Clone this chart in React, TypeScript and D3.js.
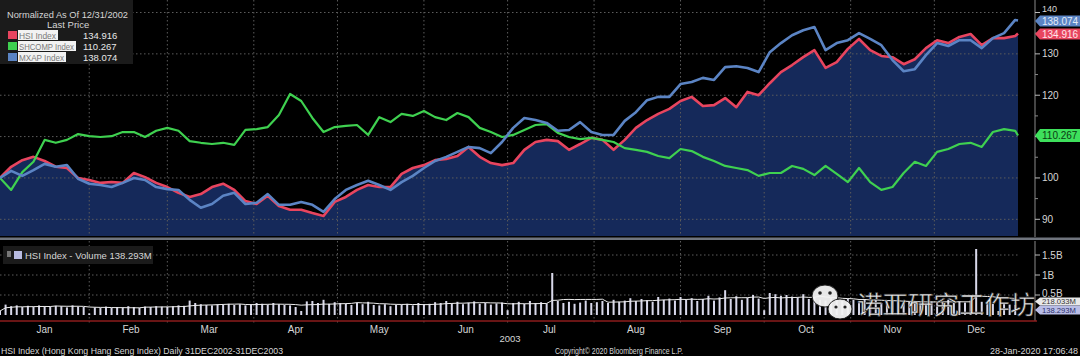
import React from "react";
import * as d3 from "d3";

// ---------- data ----------
const START = "2002-12-31";
const END = "2003-12-31";
const PRICE_STEP_DAYS = 4; // one reading every 4 calendar days, last reading on END

const HSI = [
  100, 102.7, 104.3, 105.1, 104.1, 102.7, 102.4, 100.0, 99.5, 98.8,
  99.0, 98.8, 101.2, 100.2, 98.8, 97.8, 96.4, 95.4, 96.1, 97.8,
  98.6, 97.1, 94.4, 93.7, 95.7, 93.2, 92.3, 92.3, 91.5, 90.8,
  94.2, 95.4, 97.1, 98.3, 97.8, 97.8, 101.0, 102.4, 103.1, 104.3,
  104.6, 105.3, 107.5, 105.1, 103.6, 103.1, 103.6, 106.8, 108.7, 109.2,
  108.9, 106.8, 108.2, 109.7, 109.2, 106.8, 109.2, 112.1, 114.0, 115.5,
  116.7, 118.6, 119.6, 117.4, 117.6, 119.3, 117.1, 120.8, 120.0, 122.9,
  125.6, 127.3, 129.2, 130.9, 126.6, 128.0, 131.2, 133.6, 130.9, 129.5,
  129.2, 127.5, 128.7, 131.4, 133.3, 132.6, 134.1, 134.8, 132.1, 133.8,
  133.8, 134.3, 134.916,
];

const SHCOMP = [
  100, 97.1, 101.4, 103.9, 109.2, 108.5, 109.2, 110.6, 110.1, 109.9,
  110.1, 111.1, 111.1, 109.9, 111.4, 112.1, 111.4, 108.9, 108.5, 108.2,
  108.5, 108.0, 111.6, 111.8, 112.3, 115.2, 120.3, 118.6, 114.5, 111.1,
  112.3, 112.6, 112.8, 110.4, 114.7, 113.5, 115.5, 115.0, 116.2, 114.7,
  114.0, 115.7, 114.7, 112.1, 111.1, 109.9, 110.4, 111.6, 112.8, 113.0,
  110.9, 109.9, 109.4, 109.7, 109.2, 108.7, 107.2, 106.8, 106.3, 105.3,
  104.8, 107.0, 106.5, 105.1, 104.1, 102.9, 102.4, 101.9, 100.5, 101.2,
  101.2, 102.9, 102.2, 100.7, 102.9, 101.0, 99.0, 102.4, 99.0, 97.1,
  97.8, 101.2, 103.9, 102.9, 106.3, 107.0, 108.2, 108.5, 107.5, 111.1,
  111.8, 111.4, 110.267,
];

const MXAP = [
  100, 101.7, 100.5, 101.9, 103.4, 102.7, 103.1, 99.8, 98.6, 98.3,
  97.8, 98.8, 100.0, 99.5, 97.8, 97.3, 97.1, 94.7, 92.8, 93.7,
  95.7, 96.4, 93.7, 94.0, 96.1, 93.5, 93.5, 94.2, 93.5, 91.8,
  94.9, 97.1, 98.3, 99.3, 98.3, 97.1, 99.0, 100.5, 102.4, 104.1,
  105.1, 106.3, 107.5, 107.2, 106.0, 108.7, 112.1, 114.5, 114.0, 113.3,
  111.4, 111.6, 113.5, 111.1, 110.4, 110.4, 113.8, 115.9, 118.8, 119.6,
  119.6, 122.7, 123.2, 124.2, 123.7, 126.8, 127.0, 126.6, 125.6, 130.4,
  132.6, 134.5, 135.7, 136.5, 130.9, 132.6, 133.3, 135.0, 133.6, 132.1,
  128.5, 125.8, 126.3, 129.7, 132.6, 131.9, 133.3, 133.3, 131.4, 133.8,
  135.0, 138.2, 138.074,
];

const VOLUME_STEP_DAYS = 2; // HSI volume (billions), one reading every 2 days
const VOLUME = [
  // Jan
  0.10, 0.26, 0.22, 0.24, 0.20, 0.23, 0.21, 0.24, 0.22, 0.20, 0.23, 0.22, 0.19, 0.24, 0.21, 0.20,
  // Feb
  0.04, 0.19, 0.18, 0.21, 0.18, 0.20, 0.19, 0.22, 0.20, 0.18, 0.21, 0.20, 0.22, 0.21,
  // Mar
  0.20, 0.22, 0.24, 0.23, 0.36, 0.30, 0.27, 0.25, 0.24, 0.27, 0.26, 0.28, 0.25, 0.27, 0.24, 0.26,
  // Apr
  0.30, 0.28, 0.26, 0.30, 0.27, 0.25, 0.24, 0.20, 0.10, 0.34, 0.35, 0.30, 0.38, 0.28, 0.32,
  // May
  0.30, 0.28, 0.25, 0.30, 0.27, 0.33, 0.25, 0.24, 0.27, 0.22, 0.25, 0.26, 0.28, 0.24, 0.30, 0.27,
  // Jun
  0.28, 0.32, 0.30, 0.35, 0.29, 0.33, 0.27, 0.31, 0.34, 0.28, 0.30, 0.26, 0.29, 0.31,
  // Jul
  0.12, 0.30, 0.33, 0.28, 0.35, 0.30, 0.32, 0.29, 1.05, 0.35, 0.30, 0.33, 0.28, 0.31, 0.36, 0.30,
  // Aug
  0.32, 0.35, 0.30, 0.38, 0.33, 0.36, 0.42, 0.35, 0.40, 0.37, 0.33, 0.45, 0.38, 0.41, 0.36,
  // Sep
  0.45, 0.38, 0.42, 0.35, 0.40, 0.48, 0.36, 0.44, 0.62, 0.40, 0.47, 0.38, 0.43, 0.50, 0.41,
  // Oct
  0.12, 0.55, 0.52, 0.48, 0.50, 0.46, 0.44, 0.52, 0.40, 0.45, 0.38, 0.36, 0.42, 0.39, 0.35, 0.40,
  // Nov
  0.38, 0.35, 0.40, 0.33, 0.37, 0.30, 0.34, 0.36, 0.32, 0.30, 0.33, 0.35, 0.31, 0.29, 0.34,
  // Dec
  0.35, 0.32, 0.38, 0.30, 0.34, 0.31, 0.36, 1.65, 0.33, 0.30, 0.28, 0.10, 0.29, 0.26, 0.25,
];

const PRICE_TICKS = [90, 100, 110, 120, 130, 140];
const PRICE_TICK_HIDDEN = [110]; // covered by the SHCOMP last-price tag
const PRICE_MINOR = [95, 105, 115, 125, 135];
const VOL_TICKS = [0.5, 1, 1.5];
const VOL_TICK_LABELS = ["0.5B", "1B", "1.5B"];
const MONTH_LABELS = ["Jan", "Feb", "Mar", "Apr", "May", "Jun", "Jul", "Aug", "Sep", "Oct", "Nov", "Dec"];
const SERIES_NAMES = ["HSI Index", "SHCOMP Index", "MXAP Index"];
const LAST_VALUES = ["134.916", "110.267", "138.074"];
const VOL_TAGS = ["218.033M", "138.293M"];

// ---------- styling ----------
const COL_HSI = "#e8455f";
const COL_SH = "#3fd150";
const COL_MX = "#5b84c4";
const FILL = "#15295a";
const GRID = "#5c5c5c";
const TXT = "#d6d6d6";
const FONT = '"Liberation Sans", Arial, sans-serif';

export default function App() {
  const parse = d3.utcParse("%Y-%m-%d");
  const t0 = parse(START)!;
  const t1 = parse(END)!;

  const x = d3.scaleUtc().domain([t0, t1]).range([0, 1018]);
  const y = d3.scaleLinear().domain([90, 140]).range([219.3, 12.5]);
  const yv = d3.scaleLinear().domain([0, 1.5]).range([315, 255]);

  const priceDate = (i: number) =>
    d3.utcDay.offset(t0, Math.min(i * PRICE_STEP_DAYS, d3.utcDay.count(t0, t1)));
  const toPts = (arr: number[]) => arr.map((v, i) => ({ d: priceDate(i), v }));

  const hsi = toPts(HSI);
  const sh = toPts(SHCOMP);
  const mx = toPts(MXAP);

  const line = d3
    .line<{ d: Date; v: number }>()
    .x((p) => x(p.d))
    .y((p) => y(p.v));
  const area = d3
    .area<{ d: Date; v: number }>()
    .x((p) => x(p.d))
    .y0(236)
    .y1((p) => y(p.v));

  const vol = VOLUME.map((v, i) => ({ d: d3.utcDay.offset(t0, i * VOLUME_STEP_DAYS), v }));
  const win = 10;
  const volMA = vol.map((p, i) => {
    const s = vol.slice(Math.max(0, i - win + 1), i + 1);
    return { d: p.d, v: d3.mean(s, (q) => q.v)! };
  });
  const volLine = d3
    .line<{ d: Date; v: number }>()
    .x((p) => x(p.d))
    .y((p) => yv(p.v));

  const monthStarts = d3.utcMonth.range(d3.utcMonth.offset(parse("2003-01-01")!, 1), t1);
  const monthMids = d3.utcMonth
    .range(parse("2003-01-01")!, parse("2004-01-01")!)
    .map((m) => d3.utcDay.offset(m, 15));

  const axisX = 1035;

  const tag = (yc: number, h: number, fill: string, text: string, color: string, key: string, fs = 10, tl?: number) => (
    <g key={key}>
      <path
        d={`M${axisX},${yc} L${axisX + 5},${yc - h / 2} L1080,${yc - h / 2} L1080,${yc + h / 2} L${axisX + 5},${yc + h / 2} Z`}
        fill={fill}
      />
      <text
        x={1042}
        y={yc + fs * 0.36}
        fontSize={fs}
        fill={color}
        fontFamily={FONT}
        textLength={tl}
        lengthAdjust={tl ? "spacingAndGlyphs" : undefined}
      >
        {text}
      </text>
    </g>
  );

  return (
    <svg
      width={1080}
      height={356}
      style={{ position: "absolute", left: 0, top: 0, background: "#000", display: "block" }}
      fontFamily={FONT}
    >
      <rect x={0} y={0} width={1080} height={356} fill="#000" />

      {/* main price panel */}
      <path d={area(hsi)!} fill={FILL} />

      {PRICE_TICKS.map((t) => (
        <line key={"hg" + t} x1={0} x2={1018} y1={y(t)} y2={y(t)} stroke={GRID} strokeDasharray="1.5 2.5" />
      ))}
      {monthStarts.map((m, i) => (
        <line key={"vg" + i} x1={x(m)} x2={x(m)} y1={0} y2={236} stroke={GRID} strokeDasharray="1.5 2.5" />
      ))}

      <path d={line(hsi)!} fill="none" stroke={COL_HSI} strokeWidth={2.6} strokeLinejoin="round" />
      <path d={line(sh)!} fill="none" stroke={COL_SH} strokeWidth={2.2} strokeLinejoin="round" />
      <path d={line(mx)!} fill="none" stroke={COL_MX} strokeWidth={2.6} strokeLinejoin="round" />

      {/* separator */}
      <rect x={0} y={237.5} width={1080} height={2.5} fill="#70757e" />

      {/* right axis */}
      <line x1={axisX} x2={axisX} y1={0} y2={237} stroke="#8a8a8a" />
      {PRICE_TICKS.map((t) => (
        <g key={"pt" + t}>
          <line x1={axisX} x2={axisX + 5} y1={y(t)} y2={y(t)} stroke="#bbb" />
          {PRICE_TICK_HIDDEN.includes(t) ? null : (
            <text x={1042} y={t === 140 ? 12 : y(t) + 3.5} fontSize={t === 140 ? 9 : 10} fill={TXT}>
              {t}
            </text>
          )}
        </g>
      ))}
      {PRICE_MINOR.map((t) => (
        <line key={"pm" + t} x1={axisX} x2={axisX + 3} y1={y(t)} y2={y(t)} stroke="#888" />
      ))}
      {tag(y(138.074) + 0.5, 11, COL_MX, LAST_VALUES[2], "#e4ecf8", "t1")}
      {tag(y(134.916) + 0.5, 11, COL_HSI, LAST_VALUES[0], "#ffe6ea", "t2")}
      {tag(y(110.267), 13, "#3ee05c", LAST_VALUES[1], "#0b3a12", "t3")}

      {/* legend */}
      <rect x={0} y={0} width={133} height={64} fill="#1b1b1b" />
      <text x={7} y={18} fontSize={9.5} fill={TXT} textLength={121} lengthAdjust="spacingAndGlyphs">
        Normalized As Of 12/31/2002
      </text>
      <text x={47} y={28} fontSize={9.5} fill={TXT}>
        Last Price
      </text>
      {[COL_HSI, COL_SH, COL_MX].map((c, i) => {
        const yy = 31 + i * 11;
        const w = [40, 58, 48][i];
        return (
          <g key={"lg" + i}>
            <rect x={8} y={yy} width={9} height={8} fill={c} />
            <rect x={18} y={yy - 1} width={w} height={10} fill="#f2f2f2" />
            <text
              x={19}
              y={yy + 7.5}
              fontSize={9}
              fill="#7a7a7a"
              textLength={w - 3}
              lengthAdjust="spacingAndGlyphs"
            >
              {SERIES_NAMES[i]}
            </text>
            <text x={83} y={yy + 7.5} fontSize={9.5} fill="#e8e8e8">
              {LAST_VALUES[i]}
            </text>
          </g>
        );
      })}

      {/* volume panel */}
      {VOL_TICKS.map((t) => (
        <line key={"vh" + t} x1={0} x2={1018} y1={yv(t)} y2={yv(t)} stroke={GRID} strokeDasharray="1.5 2.5" />
      ))}
      {monthStarts.map((m, i) => (
        <line key={"vv" + i} x1={x(m)} x2={x(m)} y1={241} y2={323} stroke={GRID} strokeDasharray="1.5 2.5" />
      ))}
      {vol.map((p, i) => (
        <rect key={"vb" + i} x={x(p.d) - 1} width={2} y={yv(p.v)} height={yv(0) - yv(p.v)} fill="#d8d8ea" />
      ))}
      <path d={volLine(volMA)!} fill="none" stroke="#ececec" strokeWidth={1} />

      <line x1={axisX} x2={axisX} y1={241} y2={321} stroke="#8a8a8a" />
      {VOL_TICKS.map((t, i) => (
        <g key={"vt" + t}>
          <line x1={axisX} x2={axisX + 5} y1={yv(t)} y2={yv(t)} stroke="#bbb" />
          <text x={1042} y={yv(t) + (t === 0.5 ? 1.5 : 3.5)} fontSize={10} fill={TXT}>
            {VOL_TICK_LABELS[i]}
          </text>
        </g>
      ))}
      {tag(301.5, 8, "#e8e8e8", VOL_TAGS[0], "#333", "vt1", 8, 34)}
      {tag(310, 9, "#b9bde6", VOL_TAGS[1], "#2a2f6a", "vt2", 8, 34)}

      <rect x={3} y={246} width={150} height={18} fill="#1b1b1b" />
      <rect x={7} y={251} width={4} height={6} fill="#777" />
      <rect x={14} y={251} width={8} height={8} fill="#b8bbe0" />
      <text x={25} y={259} fontSize={9.5} fill={TXT}>
        HSI Index - Volume 138.293M
      </text>

      <line x1={0} x2={1037} y1={321} y2={321} stroke="#8c1c1c" strokeWidth={1.5} />

      {/* month labels */}
      {monthMids.map((m, i) => (
        <text key={"ml" + i} x={x(m)} y={333} fontSize={10} fill={TXT} textAnchor="middle">
          {MONTH_LABELS[i]}
        </text>
      ))}
      <text x={510} y={342} fontSize={9.5} fill={TXT} textAnchor="middle">
        2003
      </text>

      {/* footer */}
      <text x={1} y={354} fontSize={9} fill={TXT} textLength={282} lengthAdjust="spacingAndGlyphs">
        HSI Index (Hong Kong Hang Seng Index)  Daily 31DEC2002-31DEC2003
      </text>
      <text x={555} y={354} fontSize={9} fill={TXT} textLength={128} lengthAdjust="spacingAndGlyphs">
        Copyright© 2020 Bloomberg Finance L.P.
      </text>
      <text x={1078} y={354} fontSize={9} fill={TXT} textAnchor="end">
        28-Jan-2020 17:06:48
      </text>

      {/* watermark */}
      <g opacity={0.95}>
        <ellipse cx={825} cy={296} rx={13} ry={11} fill="#f4f4f4" stroke="#222" strokeWidth={1} />
        <circle cx={820} cy={293} r={1.8} fill="#222" />
        <circle cx={830} cy={293} r={1.8} fill="#222" />
        <ellipse cx={840} cy={309} rx={12} ry={10} fill="#f4f4f4" stroke="#222" strokeWidth={1} />
        <circle cx={836} cy={307} r={1.6} fill="#222" />
        <circle cx={845} cy={307} r={1.6} fill="#222" />
        <text
          x={857}
          y={314}
          fontSize={25.5}
          fill="#f4f4f4"
          stroke="#333"
          strokeWidth={0.6}
          fontFamily='"Noto Sans CJK SC", sans-serif'
        >
          诺亚研究工作坊
        </text>
      </g>
    </svg>
  );
}
